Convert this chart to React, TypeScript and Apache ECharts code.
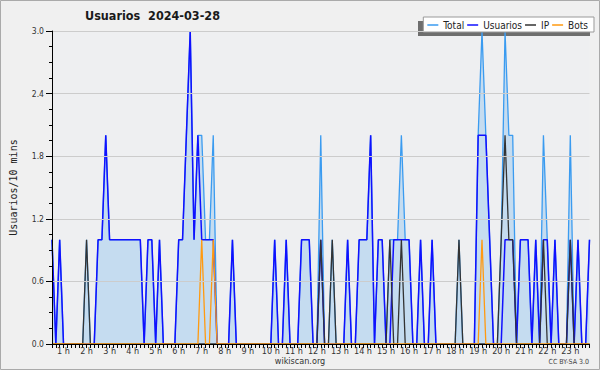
import React, { useEffect, useRef } from "react";
import * as echarts from "echarts";

// 10-minute slots from 00:00 (one row per hour)
const hours: number[] = [
  0, 1, 2, 3, 4, 5, 6, 7, 8, 9, 10, 11, 12, 13, 14, 15, 16, 17, 18, 19, 20, 21, 22, 23,
];
const minutes: string[] = ["00", "10", "20", "30", "40", "50"];
const slotCount = 141;

const hourLabels: string[] = [
  "1 h", "2 h", "3 h", "4 h", "5 h", "6 h", "7 h", "8 h", "9 h", "10 h", "11 h", "12 h",
  "13 h", "14 h", "15 h", "16 h", "17 h", "18 h", "19 h", "20 h", "21 h", "22 h", "23 h",
];

const total: number[] = [
  1, 0, 1, 0, 0, 0,
  0, 0, 0, 1, 0, 0,
  1, 1, 2, 1, 1, 1,
  1, 1, 1, 1, 1, 1,
  0, 1, 1, 0, 1, 0,
  0, 0, 0, 1, 1, 2,
  3, 1, 2, 2, 1, 1,
  2, 0, 0, 0, 0, 1,
  0, 0, 0, 0, 0, 0,
  0, 0, 0, 0, 1, 0,
  0, 1, 0, 0, 0, 1,
  1, 1, 0, 0, 2, 0,
  0, 1, 0, 0, 0, 1,
  0, 0, 1, 1, 1, 2,
  0, 1, 1, 0, 1, 1,
  1, 2, 1, 1, 0, 0,
  1, 0, 0, 1, 0, 0,
  0, 0, 0, 0, 1, 0,
  0, 0, 0, 2, 3, 2,
  1, 0, 0, 1, 3, 2,
  2, 0, 1, 1, 1, 0,
  1, 0, 2, 1, 0, 1,
  0, 0, 0, 2, 0, 1,
  0, 0, 1,
];

const usuarios: number[] = [
  1, 0, 1, 0, 0, 0,
  0, 0, 0, 0, 0, 0,
  1, 1, 2, 1, 1, 1,
  1, 1, 1, 1, 1, 1,
  0, 1, 1, 0, 1, 0,
  0, 0, 0, 1, 1, 2,
  3, 1, 2, 1, 1, 1,
  1, 0, 0, 0, 0, 1,
  0, 0, 0, 0, 0, 0,
  0, 0, 0, 0, 1, 0,
  0, 1, 0, 0, 0, 1,
  1, 1, 0, 0, 1, 0,
  0, 0, 0, 0, 0, 1,
  0, 0, 1, 1, 1, 2,
  0, 1, 1, 0, 0, 1,
  1, 1, 1, 1, 0, 0,
  1, 0, 0, 1, 0, 0,
  0, 0, 0, 0, 0, 0,
  0, 0, 0, 2, 2, 2,
  1, 0, 0, 0, 1, 1,
  1, 0, 1, 1, 1, 0,
  1, 0, 1, 1, 0, 1,
  0, 0, 0, 1, 0, 1,
  0, 0, 1,
];

const ip: number[] = [
  0, 0, 0, 0, 0, 0,
  0, 0, 0, 1, 0, 0,
  0, 0, 0, 0, 0, 0,
  0, 0, 0, 0, 0, 0,
  0, 0, 0, 0, 0, 0,
  0, 0, 0, 0, 0, 0,
  0, 0, 0, 0, 0, 0,
  0, 0, 0, 0, 0, 0,
  0, 0, 0, 0, 0, 0,
  0, 0, 0, 0, 0, 0,
  0, 0, 0, 0, 0, 0,
  0, 0, 0, 0, 1, 0,
  0, 1, 0, 0, 0, 0,
  0, 0, 0, 0, 0, 0,
  0, 0, 0, 0, 1, 0,
  0, 1, 0, 0, 0, 0,
  0, 0, 0, 0, 0, 0,
  0, 0, 0, 0, 1, 0,
  0, 0, 0, 0, 0, 0,
  0, 0, 0, 1, 2, 1,
  1, 0, 0, 0, 0, 0,
  0, 0, 1, 0, 0, 0,
  0, 0, 0, 1, 0, 0,
  0, 0, 0,
];

const bots: number[] = [
  0, 0, 0, 0, 0, 0,
  0, 0, 0, 0, 0, 0,
  0, 0, 0, 0, 0, 0,
  0, 0, 0, 0, 0, 0,
  0, 0, 0, 0, 0, 0,
  0, 0, 0, 0, 0, 0,
  0, 0, 0, 1, 0, 0,
  1, 0, 0, 0, 0, 0,
  0, 0, 0, 0, 0, 0,
  0, 0, 0, 0, 0, 0,
  0, 0, 0, 0, 0, 0,
  0, 0, 0, 0, 0, 0,
  0, 0, 0, 0, 0, 0,
  0, 0, 0, 0, 0, 0,
  0, 0, 0, 0, 0, 0,
  0, 0, 0, 0, 0, 0,
  0, 0, 0, 0, 0, 0,
  0, 0, 0, 0, 0, 0,
  0, 0, 0, 0, 1, 0,
  0, 0, 0, 0, 0, 0,
  0, 0, 0, 0, 0, 0,
  0, 0, 0, 0, 0, 0,
  0, 0, 0, 0, 0, 0,
  0, 0, 0,
];

const categories: string[] = [];
hours.forEach((h) =>
  minutes.forEach((m) => categories.push(`${String(h).padStart(2, "0")}:${m}`))
);
const slots = categories.slice(0, slotCount);

const FONT = "DejaVu Sans Condensed, DejaVu Sans, sans-serif";

export default function App() {
  const ref = useRef<HTMLDivElement>(null);
  useEffect(() => {
    if (!ref.current) return;
    const chart = echarts.init(ref.current, undefined, { renderer: "svg" });
    chart.setOption({
      animation: false,
      backgroundColor: "#f0f0f0",
      title: {
        text: "Usuarios  2024-03-28",
        left: 85,
        top: 9,
        padding: 0,
        textStyle: { fontFamily: FONT, fontSize: 12.5, fontWeight: "bold", color: "#1a1a1a" },
      },
      legend: {
        right: 6,
        top: 17,
        z: 10,
        data: ["Total", "Usuarios", "IP", "Bots"],
        icon: "rect",
        itemWidth: 11,
        itemHeight: 1.5,
        itemGap: 3,
        padding: [3, 6, 2, 4],
        backgroundColor: "#ffffff",
        borderColor: "#9a9a9a",
        borderWidth: 1,
        borderRadius: 0,
        textStyle: { fontFamily: FONT, fontSize: 10, color: "#222" },
      },
      grid: {
        left: 47,
        right: 10.5,
        top: 31,
        bottom: 26,
        show: true,
        backgroundColor: "#eeeff1",
        borderWidth: 0,
      },
      xAxis: {
        type: "category",
        data: slots,
        boundaryGap: false,
        z: 10,
        axisLine: { lineStyle: { color: "#000", width: 1 } },
        axisTick: { show: true, interval: 0, length: 4, lineStyle: { color: "#000" } },
        axisLabel: {
          interval: (i: number) => i % 6 === 3,
          formatter: (_v: string, i: number) => hourLabels[(i - 3) / 6] ?? "",
          fontFamily: FONT,
          fontSize: 9,
          color: "#333",
          margin: 2,
        },
        splitLine: { show: false },
      },
      yAxis: {
        type: "value",
        min: 0,
        max: 3,
        interval: 0.6,
        z: 10,
        name: "Usuarios/10 mins",
        nameLocation: "middle",
        nameGap: 34,
        nameTextStyle: { fontFamily: "DejaVu Sans Mono", fontSize: 10, color: "#222" },
        axisLine: { show: true, lineStyle: { color: "#000", width: 1 } },
        axisTick: { show: true, length: 6, lineStyle: { color: "#000" } },
        minorTick: { show: true, splitNumber: 4, length: 3, lineStyle: { color: "#000" } },
        axisLabel: {
          formatter: (v: number) => v.toFixed(1),
          fontFamily: FONT,
          fontSize: 8.5,
          color: "#333",
          margin: 8,
        },
        splitLine: { show: true, lineStyle: { color: "#cccccc", width: 1 } },
      },
      graphic: [
        {
          type: "rect",
          z: 0,
          shape: { x: 0.5, y: 0.5, width: 599, height: 369 },
          style: { fill: "none", stroke: "#aaaaaa", lineWidth: 1 },
          silent: true,
        },
        {
          type: "rect",
          z: 0,
          shape: { x: 418, y: 21, width: 172, height: 15 },
          style: { fill: "#6e6e6e" },
          silent: true,
        },
        {
          type: "text",
          x: 300,
          y: 356,
          style: {
            text: "wikiscan.org",
            fontFamily: FONT,
            fontSize: 9,
            fill: "#333",
            textAlign: "center",
          },
        },
        {
          type: "text",
          x: 589,
          y: 358,
          style: {
            text: "CC BY-SA 3.0",
            fontFamily: FONT,
            fontSize: 7,
            fill: "#444",
            textAlign: "right",
          },
        },
      ],
      series: [
        {
          name: "Total",
          type: "line",
          data: total,
          symbol: "none",
          lineStyle: { color: "#3a9bf0", width: 1.3 },
          itemStyle: { color: "#3a9bf0" },
          areaStyle: { color: "#c5dcf0", opacity: 1 },
          z: 1,
        },
        {
          name: "Usuarios",
          type: "line",
          data: usuarios,
          symbol: "none",
          lineStyle: { color: "#1010ff", width: 1.5 },
          itemStyle: { color: "#1010ff" },
          z: 2,
        },
        {
          name: "IP",
          type: "line",
          data: ip,
          symbol: "none",
          lineStyle: { color: "#333333", width: 1.3 },
          itemStyle: { color: "#333333" },
          z: 3,
        },
        {
          name: "Bots",
          type: "line",
          data: bots,
          symbol: "none",
          lineStyle: { color: "#ff9a10", width: 1.3 },
          itemStyle: { color: "#ff9a10" },
          z: 4,
        },
      ],
    });
    return () => chart.dispose();
  }, []);
  return (
    <div
      ref={ref}
      style={{ position: "absolute", left: 0, top: 0, width: 600, height: 370 }}
    />
  );
}
